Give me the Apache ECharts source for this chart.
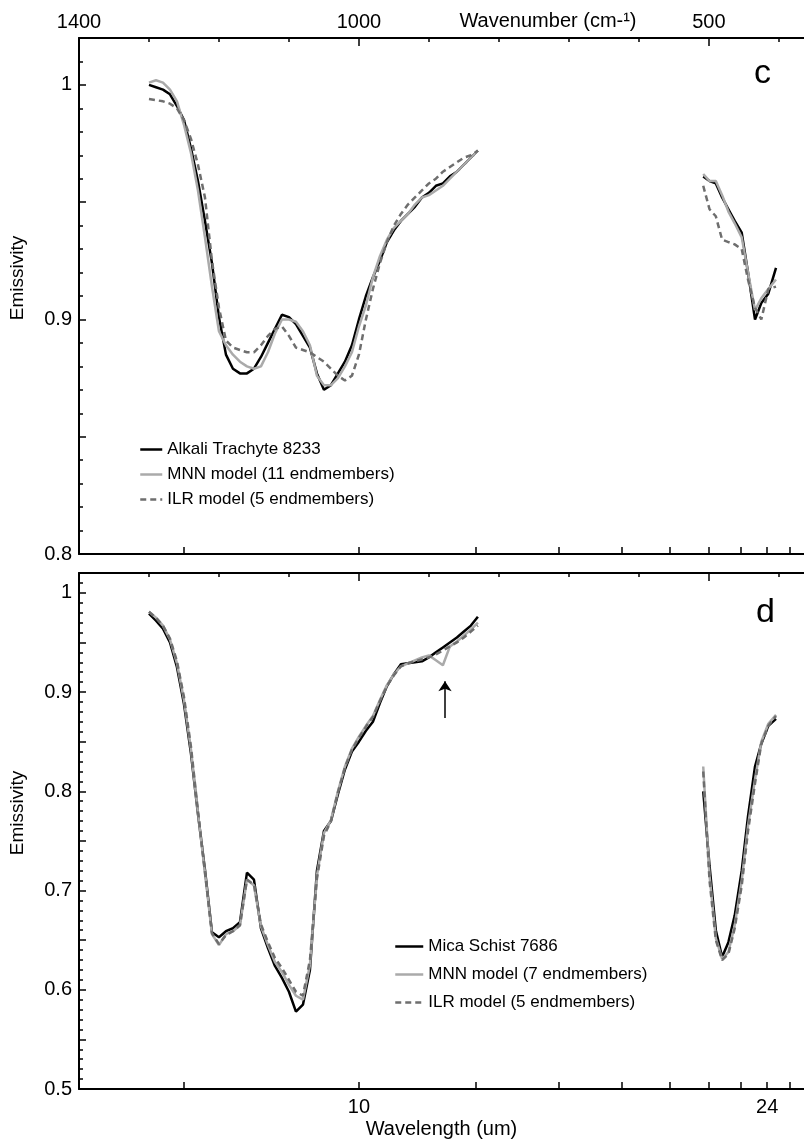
<!DOCTYPE html>
<html>
<head>
<meta charset="utf-8">
<script src="https://cdn.jsdelivr.net/npm/echarts@6.0.0/dist/echarts.min.js"></script>
<style>
  html, body { margin: 0; padding: 0; background: #fff; }
  #chart { width: 804px; height: 1142px; }
</style>
</head>
<body>
<div id="chart"></div>
<script>
// wavenumbers (cm-1) of the two spectral windows
const wnLeft = [1300, 1290, 1280, 1270, 1260, 1250, 1240, 1230, 1220, 1210, 1200, 1190, 1180, 1170, 1160, 1150,
  1140, 1130, 1120, 1110, 1100, 1090, 1080, 1070, 1060, 1050, 1040, 1030, 1020, 1010, 1000, 990,
  980, 970, 960, 950, 940, 930, 920, 910, 900, 890, 880, 870, 860, 850, 840, 830]
const wnRight = [508, 499, 490, 481, 472, 463, 453, 444, 434, 425, 415, 404]

// panel c
const trachyteL = [1.000, 0.999, 0.998, 0.996, 0.991, 0.985, 0.973, 0.959, 0.942, 0.924, 0.901, 0.885, 0.879, 0.877, 0.877, 0.879,
  0.884, 0.890, 0.896, 0.902, 0.901, 0.898, 0.893, 0.888, 0.877, 0.870, 0.872, 0.877, 0.882, 0.889, 0.900, 0.910,
  0.918, 0.925, 0.933, 0.938, 0.942, 0.945, 0.948, 0.952, 0.954, 0.957, 0.958, 0.961, 0.963, 0.966, 0.969, 0.972]
const trachyteR = [0.961, 0.959, 0.958, 0.952, 0.947, 0.942, 0.937, 0.920, 0.900, 0.907, 0.911, 0.922]
const mnnCL = [1.001, 1.002, 1.001, 0.998, 0.993, 0.983, 0.971, 0.955, 0.935, 0.914, 0.895, 0.889, 0.885, 0.882, 0.880, 0.879,
  0.880, 0.886, 0.894, 0.900, 0.900, 0.899, 0.895, 0.889, 0.876, 0.872, 0.872, 0.875, 0.880, 0.886, 0.897, 0.906,
  0.918, 0.927, 0.934, 0.939, 0.942, 0.945, 0.949, 0.952, 0.953, 0.955, 0.957, 0.960, 0.963, 0.966, 0.969, 0.972]
const mnnCR = [0.962, 0.959, 0.959, 0.953, 0.946, 0.941, 0.935, 0.920, 0.904, 0.909, 0.913, 0.917]
const ilrCL = [0.994, 0.9935, 0.993, 0.992, 0.990, 0.985, 0.977, 0.966, 0.952, 0.925, 0.905, 0.891, 0.888, 0.887, 0.886, 0.886,
  0.889, 0.893, 0.896, 0.897, 0.893, 0.888, 0.887, 0.886, 0.884, 0.882, 0.879, 0.876, 0.874, 0.876, 0.885, 0.900,
  0.913, 0.924, 0.933, 0.940, 0.945, 0.949, 0.952, 0.955, 0.958, 0.960, 0.963, 0.965, 0.967, 0.969, 0.970, 0.972]
const ilrCR = [0.957, 0.947, 0.944, 0.934, 0.933, 0.932, 0.930, 0.917, 0.905, 0.900, 0.913, 0.914]

// panel d
const schistL = [0.979, 0.972, 0.964, 0.950, 0.925, 0.888, 0.838, 0.777, 0.721, 0.658, 0.653, 0.659, 0.662, 0.668, 0.718, 0.711,
  0.662, 0.642, 0.624, 0.612, 0.598, 0.578, 0.585, 0.620, 0.720, 0.760, 0.770, 0.797, 0.822, 0.840, 0.850, 0.861,
  0.870, 0.889, 0.906, 0.918, 0.928, 0.929, 0.930, 0.931, 0.935, 0.940, 0.945, 0.950, 0.955, 0.961, 0.967, 0.976]
const schistR = [0.800, 0.725, 0.660, 0.633, 0.648, 0.675, 0.720, 0.775, 0.825, 0.848, 0.866, 0.873]
const mnnDL = [0.981, 0.975, 0.967, 0.953, 0.929, 0.892, 0.842, 0.778, 0.718, 0.656, 0.645, 0.656, 0.659, 0.665, 0.711, 0.705,
  0.664, 0.645, 0.628, 0.618, 0.605, 0.594, 0.590, 0.625, 0.715, 0.758, 0.771, 0.800, 0.825, 0.843, 0.855, 0.866,
  0.876, 0.892, 0.907, 0.918, 0.926, 0.929, 0.932, 0.935, 0.937, 0.932, 0.927, 0.946, 0.951, 0.957, 0.963, 0.970]
const mnnDR = [0.825, 0.715, 0.652, 0.631, 0.638, 0.665, 0.710, 0.765, 0.812, 0.850, 0.868, 0.877]
const ilrDL = [0.981, 0.975, 0.967, 0.954, 0.931, 0.895, 0.845, 0.780, 0.718, 0.657, 0.646, 0.655, 0.659, 0.665, 0.711, 0.706,
  0.666, 0.648, 0.632, 0.622, 0.610, 0.598, 0.594, 0.630, 0.712, 0.755, 0.770, 0.799, 0.824, 0.842, 0.854, 0.865,
  0.875, 0.891, 0.906, 0.917, 0.926, 0.929, 0.931, 0.933, 0.935, 0.938, 0.942, 0.946, 0.950, 0.955, 0.961, 0.967]
const ilrDR = [0.820, 0.710, 0.650, 0.630, 0.636, 0.662, 0.705, 0.760, 0.808, 0.848, 0.866, 0.876]

// axis ticks and labels
const wnMinorTicks = [1400, 1300, 1200, 1100, 1000, 900, 800, 700, 600, 500, 400]
const wnLabels = [1400, 1000, 500]
const wlTicks = [8, 10, 12, 14, 16, 18, 20, 22, 24, 26]
const wlLabels = [10, 24]
const yTicksC = [0.8, 0.85, 0.9, 0.95, 1]
const yLabelsC = [0.8, 0.9, 1]
const yTicksD = [0.5, 0.55, 0.6, 0.65, 0.7, 0.75, 0.8, 0.85, 0.9, 0.95, 1]
const yLabelsD = [0.5, 0.6, 0.7, 0.8, 0.9, 1]
const arrowWn = 877
const arrowFrom = 0.874
const arrowTo = 0.911

const FONT = 'Liberation Sans, Arial, sans-serif'
const BLACK = '#000'
const GREY = '#aaaaaa'
const DASH = '#6e6e6e'

const chart = echarts.init(document.getElementById('chart'))

function build(wL, vL, wR, vR) {
  const d = wL.map((w, i) => [w, vL[i]])
  d.push([660, '-'])
  return d.concat(wR.map((w, i) => [w, vR[i]]))
}

function hundredths(lo, hi) {
  const out = []
  for (let k = lo; k <= hi; k++) out.push(k / 100)
  return out
}

function xBase(grid, position) {
  return {
    gridIndex: grid, type: 'value', position: position,
    min: 364, max: 1400, inverse: true,
    splitLine: { show: false },
    axisLine: { show: false, onZero: false },
    axisTick: { show: false },
    axisLabel: { show: false },
  }
}

function xAxesFor(grid) {
  const minor = xBase(grid, 'top')
  minor.axisLine = { show: true, onZero: false, lineStyle: { color: BLACK, width: 2 } }
  minor.axisTick = { show: true, inside: true, length: 4, customValues: wnMinorTicks, lineStyle: { color: BLACK, width: 1.5 } }

  const major = xBase(grid, 'top')
  major.axisTick = { show: true, inside: true, length: 8, customValues: wnLabels, lineStyle: { color: BLACK, width: 1.5 } }
  major.axisLabel = {
    show: grid === 0, customValues: wnLabels, margin: 6, fontSize: 20, color: BLACK, fontFamily: FONT,
    formatter: v => String(v),
  }

  const wl = xBase(grid, 'bottom')
  wl.axisLine = { show: true, onZero: false, lineStyle: { color: BLACK, width: 2 } }
  wl.axisTick = { show: true, inside: true, length: 7, customValues: wlTicks.map(l => 10000 / l), lineStyle: { color: BLACK, width: 1.5 } }
  wl.axisLabel = {
    show: grid === 1, customValues: wlLabels.map(l => 10000 / l), margin: 8,
    fontSize: 20, color: BLACK, fontFamily: FONT,
    formatter: v => String(Math.round(10000 / v)),
  }
  if (grid === 1) {
    wl.name = 'Wavelength (um)'
    wl.nameLocation = 'middle'
    wl.nameGap = 30
    wl.nameTextStyle = { fontSize: 20, color: BLACK, fontFamily: FONT }
  }
  return [minor, major, wl]
}

function yAxesFor(grid, min, ticks, labels, minorTicks) {
  const main = {
    gridIndex: grid, type: 'value', position: 'left', min: min, max: 1.02,
    splitLine: { show: false },
    axisLine: { show: true, onZero: false, lineStyle: { color: BLACK, width: 2 } },
    axisTick: { show: true, inside: true, length: 7, customValues: ticks, lineStyle: { color: BLACK, width: 1.5 } },
    axisLabel: {
      customValues: labels, margin: 7, fontSize: 20, color: BLACK, fontFamily: FONT,
      formatter: v => String(+v.toFixed(2)),
    },
    name: 'Emissivity', nameLocation: 'middle', nameGap: 52, nameRotate: 90,
    nameTextStyle: { fontSize: 19, color: BLACK, fontFamily: FONT, padding: [0, 0, 0, 36] },
  }
  const minor = {
    gridIndex: grid, type: 'value', position: 'left', min: min, max: 1.02,
    splitLine: { show: false },
    axisLine: { show: false, onZero: false },
    axisTick: { show: true, inside: true, length: 4, customValues: minorTicks, lineStyle: { color: BLACK, width: 1.5 } },
    axisLabel: { show: false },
  }
  return [main, minor]
}

function line(name, xi, yi, data, color, dashed) {
  return {
    name: name, type: 'line', xAxisIndex: xi, yAxisIndex: yi,
    data: data, symbol: 'none', showSymbol: false, connectNulls: false,
    lineStyle: { color: color, width: 2.5, type: dashed ? [6, 4] : 'solid' },
    itemStyle: { color: color },
  }
}

const mnnD = line('MNN model (7 endmembers)', 3, 2, build(wnLeft, mnnDL, wnRight, mnnDR), GREY, false)
mnnD.markLine = {
  silent: true, symbol: ['none', 'arrow'], symbolSize: 10,
  lineStyle: { color: BLACK, width: 1.5, type: 'solid' },
  label: { show: false },
  data: [[{ coord: [arrowWn, arrowFrom] }, { coord: [arrowWn, arrowTo] }]],
}

const legendText = { fontSize: 17, color: BLACK, fontFamily: FONT }

const option = {
  animation: false,
  backgroundColor: '#fff',
  grid: [
    { left: 79, right: 0, top: 38, height: 516 },
    { left: 79, right: 0, top: 573, height: 516 },
  ],
  xAxis: xAxesFor(0).concat(xAxesFor(1)),
  yAxis: yAxesFor(0, 0.8, yTicksC, yLabelsC, hundredths(81, 101))
    .concat(yAxesFor(1, 0.5, yTicksD, yLabelsD, hundredths(51, 101))),
  title: [
    { text: 'c', left: 754, top: 57, padding: 0, textStyle: { fontSize: 34, fontWeight: 'normal', color: BLACK, fontFamily: FONT } },
    { text: 'd', left: 756, top: 596, padding: 0, textStyle: { fontSize: 34, fontWeight: 'normal', color: BLACK, fontFamily: FONT } },
  ],
  graphic: [
    {
      type: 'text', x: 548, y: 21,
      style: { text: 'Wavenumber (cm-\u00b9)', fontSize: 20, fill: BLACK, fontFamily: FONT, align: 'center', verticalAlign: 'middle' },
    },
  ],
  legend: [
    {
      orient: 'vertical', left: 134, top: 436, itemWidth: 22, itemHeight: 14, itemGap: 8,
      data: ['Alkali Trachyte 8233', 'MNN model (11 endmembers)', 'ILR model (5 endmembers)'],
      textStyle: legendText, selectedMode: false, itemStyle: { opacity: 0 }, lineStyle: { width: 2.5 },
    },
    {
      orient: 'vertical', left: 389, top: 933, itemWidth: 28, itemHeight: 14, itemGap: 11,
      data: ['Mica Schist 7686', 'MNN model (7 endmembers)', 'ILR model (5 endmembers)'],
      textStyle: legendText, selectedMode: false, itemStyle: { opacity: 0 }, lineStyle: { width: 2.5 },
    },
  ],
  series: [
    line('Alkali Trachyte 8233', 0, 0, build(wnLeft, trachyteL, wnRight, trachyteR), BLACK, false),
    line('MNN model (11 endmembers)', 0, 0, build(wnLeft, mnnCL, wnRight, mnnCR), GREY, false),
    line('ILR model (5 endmembers)', 0, 0, build(wnLeft, ilrCL, wnRight, ilrCR), DASH, true),
    line('Mica Schist 7686', 3, 2, build(wnLeft, schistL, wnRight, schistR), BLACK, false),
    mnnD,
    line('ILR model (5 endmembers)', 3, 2, build(wnLeft, ilrDL, wnRight, ilrDR), DASH, true),
  ],
}

chart.setOption(option)
</script>
</body>
</html>
